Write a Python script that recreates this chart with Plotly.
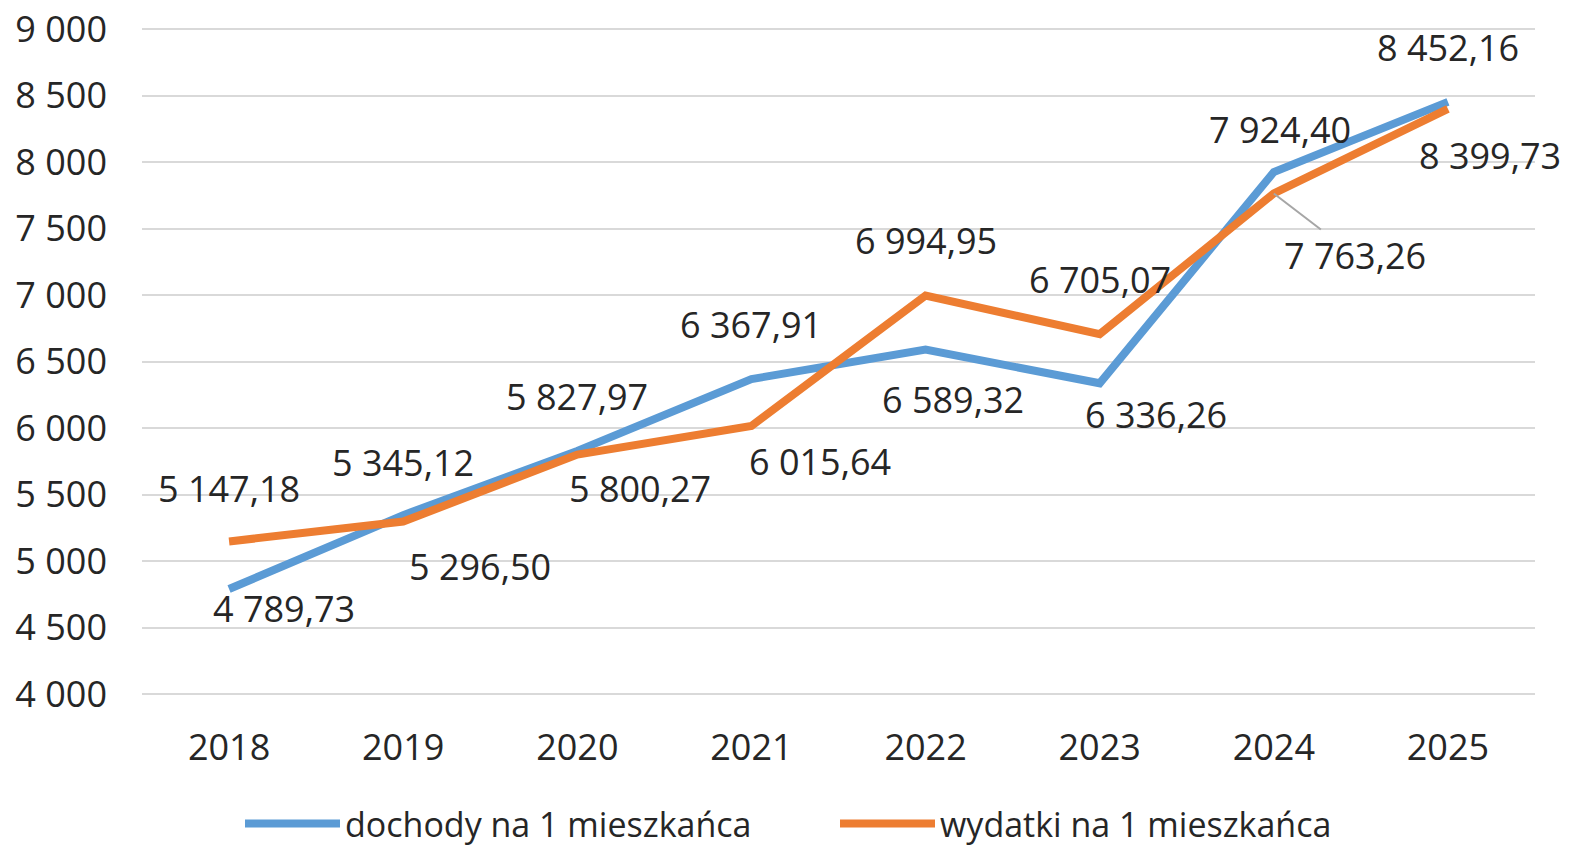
import plotly.graph_objects as go

years = ["2018", "2019", "2020", "2021", "2022", "2023", "2024", "2025"]
dochody = [4789.73, 5345.12, 5827.97, 6367.91, 6589.32, 6336.26, 7924.40, 8452.16]
wydatki = [5147.18, 5296.50, 5800.27, 6015.64, 6994.95, 6705.07, 7763.26, 8399.73]
y_ticks = [4000, 4500, 5000, 5500, 6000, 6500, 7000, 7500, 8000, 8500, 9000]
series_names = ["dochody na 1 mieszkańca", "wydatki na 1 mieszkańca"]

BLUE = "#5B9BD5"
ORANGE = "#ED7D31"
FONT = "Open Sans"
FS = 36
TXT = "#262626"


def fmt(v):
    s = f"{v:,.2f}"
    return s.replace(",", " ").replace(".", ",")


def fmt_tick(v):
    return f"{v:,.0f}".replace(",", " ")


fig = go.Figure()
fig.add_trace(go.Scatter(x=years, y=dochody, mode="lines", name=series_names[0],
                         line=dict(color=BLUE, width=8)))
fig.add_trace(go.Scatter(x=years, y=wydatki, mode="lines", name=series_names[1],
                         line=dict(color=ORANGE, width=8)))

# label offsets (pixels) for each data label
doch_off = [(55, -20), (0, 53), (0, 54), (0, 55), (27, -50), (56, -31), (6, 43), (0, 54)]
wyd_off = [(0, 53), (77, -45), (63, -34), (69, -36), (0, 55), (0, 55), None, (42, -47)]

ann = []
for i, v in enumerate(dochody):
    dx, dy = doch_off[i]
    ann.append(dict(x=i, y=v, xref="x", yref="y", text=fmt(v), showarrow=False,
                    xshift=dx, yshift=dy, font=dict(family=FONT, size=FS, color=TXT)))
for i, v in enumerate(wydatki):
    if wyd_off[i] is None:
        ann.append(dict(x=i, y=v, xref="x", yref="y", text=fmt(v), showarrow=True,
                        ax=81, ay=62, arrowhead=0, arrowwidth=2, arrowcolor="#A6A6A6",
                        standoff=0, font=dict(family=FONT, size=FS, color=TXT)))
        continue
    dx, dy = wyd_off[i]
    ann.append(dict(x=i, y=v, xref="x", yref="y", text=fmt(v), showarrow=False,
                    xshift=dx, yshift=dy, font=dict(family=FONT, size=FS, color=TXT)))

fig.update_layout(
    width=1556, height=838,
    margin=dict(l=134, r=29, t=19, b=150, autoexpand=False),
    paper_bgcolor="white", plot_bgcolor="white",
    font=dict(family=FONT, size=FS, color=TXT),
    annotations=ann,
    showlegend=True,
    legend=dict(orientation="h", x=98 / 1393, xanchor="left", y=-128 / 669,
                yanchor="middle", itemwidth=95, entrywidth=485,
                font=dict(family=FONT, size=34, color=TXT), tracegroupgap=0),
)
fig.update_xaxes(type="category", range=[-0.5, 7.5], showgrid=False, showline=False,
                 zeroline=False, ticks="", ticklabelstandoff=27, automargin=False,
                 ticklabeloverflow="allow",
                 tickfont=dict(family=FONT, size=FS, color=TXT))
fig.update_yaxes(range=[3985, 9015], tickvals=y_ticks, ticktext=[fmt_tick(t) for t in y_ticks],
                 showgrid=True, gridcolor="#D9D9D9", gridwidth=2, zeroline=False,
                 showline=False, ticks="", ticklabelstandoff=34, automargin=False,
                 ticklabeloverflow="allow",
                 tickfont=dict(family=FONT, size=FS, color=TXT))

fig.write_html("out.html")
